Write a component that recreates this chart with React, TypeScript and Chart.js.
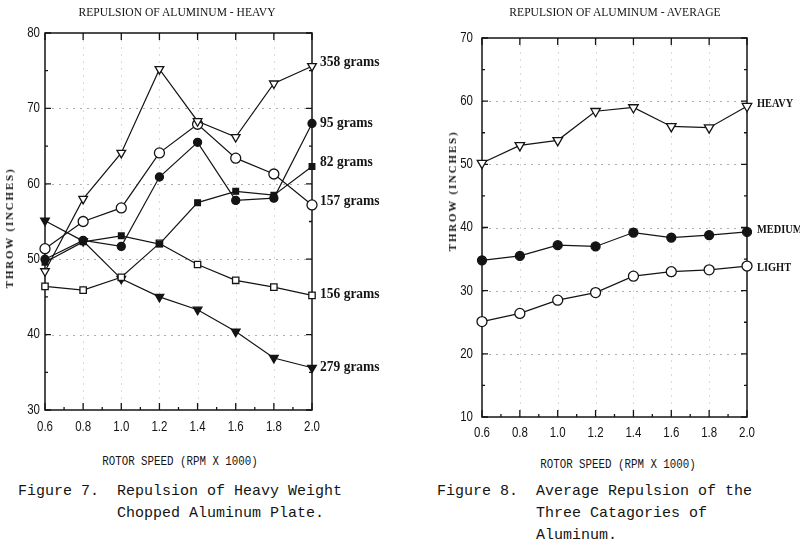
import React, { useEffect, useRef } from 'react';
import { Chart, registerables } from 'chart.js';

Chart.register(...registerables);

// ---------- data ----------
const speeds = ['0.6', '0.8', '1.0', '1.2', '1.4', '1.6', '1.8', '2.0'];

// Figure 7 – heavy weight chopped aluminum plate (throw, inches)
const g358 = [48.4, 58.0, 64.1, 75.2, 68.3, 66.2, 73.3, 75.6];
const g95 = [50.0, 52.5, 51.7, 60.9, 65.5, 57.8, 58.1, 68.0];
const g82 = [49.6, 52.3, 53.1, 52.0, 57.5, 59.0, 58.5, 62.3];
const g157 = [51.4, 55.0, 56.8, 64.1, 67.9, 63.4, 61.3, 57.2];
const g156 = [46.4, 45.9, 47.6, 52.1, 49.3, 47.2, 46.3, 45.2];
const g279 = [55.1, 52.4, 47.4, 45.0, 43.3, 40.4, 36.9, 35.6];
const heavyNames = ['358 grams', '95 grams', '82 grams', '157 grams', '156 grams', '279 grams'];
const heavyNameAt = [76.2, 68.1, 62.9, 57.7, 45.4, 35.7];

// Figure 8 – average of the three categories
const avgHeavy = [50.2, 53.0, 53.8, 58.4, 59.0, 56.0, 55.8, 59.2];
const avgMedium = [34.8, 35.5, 37.2, 37.0, 39.2, 38.4, 38.8, 39.3];
const avgLight = [25.1, 26.4, 28.5, 29.7, 32.3, 33.0, 33.3, 33.9];
const avgNames = ['HEAVY', 'MEDIUM', 'LIGHT'];
const avgNameAt = [59.6, 39.6, 33.7];

// ---------- helpers ----------
const INK = '#141414';
const TICK_FONT = "14px 'Liberation Sans', Arial, sans-serif";

function series(data: number[], style: string, rotation: number, filled: boolean, radius: number) {
  return {
    data,
    borderColor: INK,
    borderWidth: 1.2,
    pointStyle: style,
    pointRotation: rotation,
    pointRadius: radius,
    pointBackgroundColor: filled ? INK : '#ffffff',
    pointBorderColor: INK,
    pointBorderWidth: 1.3,
    tension: 0,
    fill: false,
  };
}

function squeezedText(ctx: any, text: string, x: number, y: number, sx: number, align: string) {
  ctx.save();
  ctx.translate(x, y);
  ctx.scale(sx, 1);
  ctx.textAlign = align;
  ctx.fillText(text, 0, 0);
  ctx.restore();
}

const framePlugin = {
  id: 'frame',
  beforeDatasetsDraw(chart: any, _args: any, opts: any) {
    const { ctx, chartArea: a, scales } = chart;
    const x = scales.x;
    const y = scales.y;
    ctx.save();
    // faint dotted grid
    ctx.lineWidth = 1;
    ctx.setLineDash([2, 5]);
    ctx.strokeStyle = 'rgba(110,110,110,0.55)';
    y.ticks.forEach((t: any) => {
      const py = Math.round(y.getPixelForValue(t.value)) + 0.5;
      if (py > a.top + 3 && py < a.bottom - 3) {
        ctx.beginPath();
        ctx.moveTo(a.left, py);
        ctx.lineTo(a.right, py);
        ctx.stroke();
      }
    });
    ctx.strokeStyle = 'rgba(150,150,150,0.35)';
    for (let i = 1; i < speeds.length - 1; i++) {
      const px = Math.round(x.getPixelForValue(i)) + 0.5;
      ctx.beginPath();
      ctx.moveTo(px, a.top);
      ctx.lineTo(px, a.bottom);
      ctx.stroke();
    }
    ctx.setLineDash([]);
    // frame
    ctx.strokeStyle = INK;
    ctx.lineWidth = 1.5;
    ctx.strokeRect(a.left, a.top, a.right - a.left, a.bottom - a.top);
    // inward ticks + tick labels
    ctx.lineWidth = 1.3;
    ctx.fillStyle = INK;
    ctx.font = TICK_FONT;
    ctx.textBaseline = 'middle';
    const yt = y.ticks.map((t: any) => t.value);
    const step = yt[1] - yt[0];
    yt.forEach((v: number, i: number) => {
      const py = y.getPixelForValue(v);
      ctx.beginPath();
      ctx.moveTo(a.left, py); ctx.lineTo(a.left + 6, py);
      ctx.moveTo(a.right, py); ctx.lineTo(a.right - 6, py);
      ctx.stroke();
      squeezedText(ctx, String(v), a.left - opts.yPad, py, 0.82, 'right');
      if (i < yt.length - 1) {
        const pm = y.getPixelForValue(v + step / 2);
        ctx.beginPath();
        ctx.moveTo(a.left, pm); ctx.lineTo(a.left + 3, pm);
        ctx.moveTo(a.right, pm); ctx.lineTo(a.right - 3, pm);
        ctx.stroke();
      }
    });
    for (let i = 0; i < speeds.length; i++) {
      const px = x.getPixelForValue(i);
      ctx.beginPath();
      ctx.moveTo(px, a.bottom); ctx.lineTo(px, a.bottom - 7);
      ctx.moveTo(px, a.top); ctx.lineTo(px, a.top + 7);
      ctx.stroke();
      squeezedText(ctx, x.getLabelForValue(i), px, a.bottom + opts.xPad, 0.82, 'center');
      if (i < speeds.length - 1) {
        const pm = (px + x.getPixelForValue(i + 1)) / 2;
        ctx.beginPath();
        ctx.moveTo(pm, a.bottom); ctx.lineTo(pm, a.bottom - 3);
        ctx.stroke();
      }
    }
    ctx.restore();
  },
  afterDatasetsDraw(chart: any, _args: any, opts: any) {
    const { ctx, chartArea: a, scales } = chart;
    ctx.save();
    ctx.fillStyle = INK;
    ctx.font = opts.font;
    ctx.textBaseline = 'middle';
    opts.names.forEach((n: string, i: number) => {
      const py = scales.y.getPixelForValue(opts.at[i]);
      squeezedText(ctx, n, a.right + opts.gap, py, opts.squeeze, 'left');
    });
    ctx.restore();
  },
};

function makeConfig(datasets: any[], yMin: number, yMax: number, yWidth: number, xHeight: number,
  padRight: number, padTop: number, frameOpts: any) {
  return {
    type: 'line',
    data: { labels: speeds, datasets },
    options: {
      animation: false,
      responsive: false,
      events: [],
      layout: { padding: { left: 0, right: padRight, top: padTop, bottom: 0 } },
      plugins: {
        legend: { display: false },
        tooltip: { enabled: false },
        title: { display: false },
        frame: frameOpts,
      },
      scales: {
        x: {
          type: 'category',
          offset: false,
          grid: { display: false, drawTicks: false },
          border: { display: false },
          ticks: { display: false, autoSkip: false },
          afterFit: (s: any) => { s.height = xHeight; },
        },
        y: {
          type: 'linear',
          min: yMin,
          max: yMax,
          grid: { display: false, drawTicks: false },
          border: { display: false },
          ticks: { display: false, stepSize: 10 },
          afterFit: (s: any) => { s.width = yWidth; },
        },
      },
    },
    plugins: [framePlugin],
  };
}

function ChartCanvas({ config, left }: { config: () => any; left: number }) {
  const ref = useRef<HTMLCanvasElement | null>(null);
  useEffect(() => {
    if (!ref.current) return;
    const chart = new Chart(ref.current, config());
    return () => chart.destroy();
  }, []);
  return (
    <canvas ref={ref} width={400} height={450}
      style={{ position: 'absolute', left, top: 0, width: 400, height: 450 }} />
  );
}

const heavyConfig = () => makeConfig(
  [
    series(g358, 'triangle', 180, false, 5),
    series(g95, 'circle', 0, true, 4),
    series(g82, 'rect', 0, true, 4),
    series(g157, 'circle', 0, false, 5),
    series(g156, 'rect', 0, false, 4.5),
    series(g279, 'triangle', 180, true, 5),
  ],
  30, 80, 45, 40, 88, 33,
  { names: heavyNames, at: heavyNameAt, gap: 8, font: "bold 15px 'Liberation Serif', serif", squeeze: 0.9, yPad: 5, xPad: 17 },
);

const avgConfig = () => makeConfig(
  [
    series(avgHeavy, 'triangle', 180, false, 5.5),
    series(avgMedium, 'circle', 0, true, 4.5),
    series(avgLight, 'circle', 0, false, 5),
  ],
  10, 70, 82, 33, 53, 38,
  { names: avgNames, at: avgNameAt, gap: 10, font: "bold 13px 'Liberation Serif', serif", squeeze: 0.8, yPad: 9, xPad: 16 },
);

const serif = "'Liberation Serif', 'DejaVu Serif', serif";
const mono = "'Liberation Mono', 'DejaVu Sans Mono', monospace";

function Text({ x, y, children, style }: any) {
  return (
    <div style={{
      position: 'absolute', left: x, top: y, whiteSpace: 'pre', color: INK,
      transform: 'translate(-50%, -50%)', ...style,
    }}>{children}</div>
  );
}

export default function App() {
  return (
    <div style={{ position: 'absolute', left: 0, top: 0, width: 800, height: 547, background: '#fff', overflow: 'hidden' }}>
      <ChartCanvas config={heavyConfig} left={0} />
      <ChartCanvas config={avgConfig} left={400} />

      <Text x={177} y={12} style={{ font: `13px ${serif}`, transform: 'translate(-50%, -50%) scaleX(0.89)' }}>
        REPULSION OF ALUMINUM - HEAVY
      </Text>
      <Text x={615} y={12} style={{ font: `13px ${serif}`, transform: 'translate(-50%, -50%) scaleX(0.89)' }}>
        REPULSION OF ALUMINUM - AVERAGE
      </Text>

      <Text x={9} y={228} style={{ font: `bold 11px ${serif}`, letterSpacing: '1.8px', transform: 'translate(-50%, -50%) rotate(-90deg)' }}>
        THROW (INCHES)
      </Text>
      <Text x={452} y={191} style={{ font: `bold 11px ${serif}`, letterSpacing: '1.8px', transform: 'translate(-50%, -50%) rotate(-90deg)' }}>
        THROW (INCHES)
      </Text>

      <Text x={180} y={462} style={{ font: `12px ${mono}`, transform: 'translate(-50%, -50%) scaleX(0.9)' }}>
        ROTOR SPEED (RPM X 1000)
      </Text>
      <Text x={618} y={465} style={{ font: `12px ${mono}`, transform: 'translate(-50%, -50%) scaleX(0.9)' }}>
        ROTOR SPEED (RPM X 1000)
      </Text>

      <div style={{ position: 'absolute', left: 18, top: 481, font: `15px ${mono}`, lineHeight: '22px', whiteSpace: 'pre', color: INK }}>
        {'Figure 7.  Repulsion of Heavy Weight\n           Chopped Aluminum Plate.'}
      </div>
      <div style={{ position: 'absolute', left: 437, top: 481, font: `15px ${mono}`, lineHeight: '22px', whiteSpace: 'pre', color: INK }}>
        {'Figure 8.  Average Repulsion of the\n           Three Catagories of\n           Aluminum.'}
      </div>
    </div>
  );
}
